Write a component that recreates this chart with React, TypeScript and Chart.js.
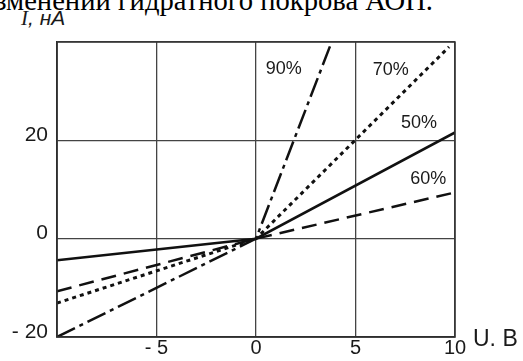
import React, { useEffect, useRef } from "react";
import { Chart, registerables } from "chart.js";

Chart.register(...registerables);

const seriesNames = ["50%", "60%", "70%", "90%"];
const series50 = [{ x: -10, y: -4.4 }, { x: 0, y: 0 }, { x: 10, y: 21.6 }];
const series60 = [{ x: -10, y: -10.7 }, { x: 0, y: 0 }, { x: 10, y: 9.4 }];
const series70 = [{ x: -10, y: -13.1 }, { x: 0, y: 0 }, { x: 9.7, y: 39 }];
const series90 = [{ x: -10, y: -20 }, { x: 0, y: 0 }, { x: 3.8, y: 40 }];
const xTickLabels: Record<number, string> = { [-5]: "- 5", 0: "0", 5: "5", 10: "10" };
const yTickLabels: Record<number, string> = { [-20]: "- 20", 0: "0", 20: "20" };
const curveLabels = [
  { text: "90%", x: 1.4, y: 34.5 },
  { text: "70%", x: 6.77, y: 34.2 },
  { text: "50%", x: 8.19, y: 23.5 },
  { text: "60%", x: 8.66, y: 12.2 },
];
const xAxisTitle = "U. B";
const captionText = "изменений гидратного покрова АОП.";

const textPlugin = {
  id: "textPlugin",
  afterDraw(chart: any) {
    const ctx = chart.ctx;
    const xs = chart.scales.x;
    const ys = chart.scales.y;
    ctx.save();
    ctx.fillStyle = "#1a1a1a";
    ctx.textAlign = "center";
    ctx.textBaseline = "middle";
    ctx.font = '18px "Liberation Sans", Arial, sans-serif';
    for (const l of curveLabels) {
      ctx.fillText(l.text, xs.getPixelForValue(l.x), ys.getPixelForValue(l.y));
    }
    ctx.textAlign = "left";
    ctx.font = '23px "Liberation Sans", Arial, sans-serif';
    ctx.fillText(xAxisTitle, chart.chartArea.right + 18, chart.chartArea.bottom + 3);
    ctx.restore();
  },
};

export default function App() {
  const ref = useRef<HTMLCanvasElement>(null);
  useEffect(() => {
    if (!ref.current) return;
    const mk = (label: string, data: any[], dash: number[], width: number) => ({
      label,
      data,
      borderColor: "#111",
      borderWidth: width,
      borderDash: dash,
      pointRadius: 0,
      fill: false,
      tension: 0,
    });
    const chart = new Chart(ref.current, {
      type: "line",
      data: {
        datasets: [
          mk(seriesNames[0], series50, [], 2.5),
          mk(seriesNames[1], series60, [15, 8], 2.5),
          mk(seriesNames[2], series70, [4, 4], 3),
          mk(seriesNames[3], series90, [20, 5, 4, 5], 2.5),
        ],
      },
      options: {
        animation: false,
        responsive: false,
        layout: { padding: { left: 0, right: 68, top: 42, bottom: 0 } },
        plugins: { legend: { display: false }, tooltip: { enabled: false } },
        scales: {
          x: {
            type: "linear",
            min: -10,
            max: 10,
            afterFit: (s: any) => { s.height = 24; },
            ticks: {
              stepSize: 5,
              autoSkip: false,
              maxRotation: 0,
              padding: -1,
              color: "#1a1a1a",
              font: { family: '"Liberation Sans", Arial, sans-serif', size: 20 },
              callback: (v: any) => xTickLabels[v as number] ?? "",
            },
            grid: { color: "#444", lineWidth: 1.3, drawTicks: false },
            border: { color: "#222", width: 1.5 },
          },
          y: {
            type: "linear",
            min: -20,
            max: 40,
            afterFit: (s: any) => { s.width = 57; },
            ticks: {
              stepSize: 20,
              padding: 9,
              labelOffset: -5,
              color: "#1a1a1a",
              font: { family: '"Liberation Sans", Arial, sans-serif', size: 21 },
              callback: (v: any) => yTickLabels[v as number] ?? "",
            },
            grid: { color: "#444", lineWidth: 1.3, drawTicks: false },
            border: { color: "#222", width: 1.5 },
          },
        },
      },
      plugins: [
        textPlugin,
        {
          id: "frame",
          afterDraw(c: any) {
            const a = c.chartArea;
            const ctx = c.ctx;
            ctx.save();
            ctx.strokeStyle = "#333";
            ctx.lineWidth = 1.5;
            ctx.strokeRect(a.left, a.top, a.right - a.left, a.bottom - a.top);
            ctx.restore();
          },
        },
      ],
    });
    return () => chart.destroy();
  }, []);
  return (
    <div style={{ position: "fixed", left: 0, top: 0, width: 523, height: 361, background: "#fff", overflow: "hidden" }}>
      <div
        style={{
          position: "absolute",
          right: 90,
          top: -14,
          whiteSpace: "nowrap",
          fontFamily: '"Liberation Serif", "Times New Roman", serif',
          fontSize: 28.6,
          lineHeight: "29px",
          color: "#000",
        }}
      >
        {captionText}
      </div>
      <div
        style={{
          position: "absolute",
          left: 21,
          top: 7,
          whiteSpace: "nowrap",
          fontStyle: "italic",
          fontSize: 21,
          lineHeight: "22px",
          color: "#1a1a1a",
        }}
      >
        <span style={{ fontFamily: '"Liberation Serif", serif' }}>I</span>
        <span style={{ fontFamily: '"Liberation Sans", Arial, sans-serif' }}>, нА</span>
      </div>
      <canvas ref={ref} width={523} height={361} style={{ position: "absolute", left: 0, top: 0 }} />
    </div>
  );
}
